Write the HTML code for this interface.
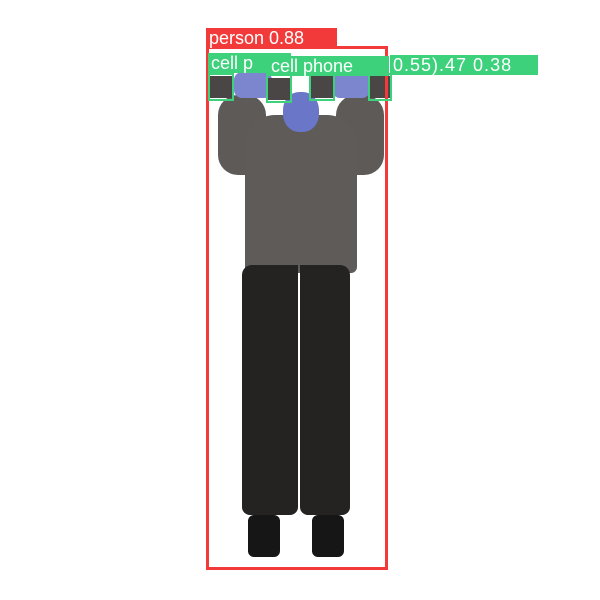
<!DOCTYPE html>
<html><head><style>
body{margin:0;width:600px;height:600px;background:#fff;position:relative;overflow:hidden;font-family:"Liberation Sans",sans-serif}
div{position:absolute}
.lbl{color:#fff;font-size:18px;line-height:20px;padding-left:3px;white-space:nowrap}
.g{background:#3cd17a}.r{background:#f23a3a}
.gb{border:2px solid #3cd17a;box-sizing:border-box}
.db{background:#4a4646}
</style></head><body>
<div style="left:0;top:0;width:600px;height:600px">
<div style="left:218px;top:95px;width:48px;height:80px;background:#5e5a58;border-radius:20px"></div>
<div style="left:336px;top:95px;width:48px;height:80px;background:#5e5a58;border-radius:20px"></div>
<div style="left:245px;top:115px;width:112px;height:158px;background:#5f5b59;border-radius:30px 30px 6px 6px"></div>
<div style="left:283px;top:92px;width:36px;height:40px;background:#6a76c8;border-radius:45%"></div>
<div style="left:234px;top:72px;width:38px;height:26px;background:#7c86cf;border-radius:8px"></div>
<div style="left:332px;top:72px;width:38px;height:26px;background:#7c86cf;border-radius:8px"></div>
<div class="db" style="left:210px;top:76px;width:22px;height:22px"></div>
<div class="db" style="left:268px;top:78px;width:22px;height:22px"></div>
<div class="db" style="left:311px;top:76px;width:22px;height:22px"></div>
<div class="db" style="left:370px;top:76px;width:20px;height:22px"></div>
<div style="left:242px;top:265px;width:56px;height:250px;background:#252222;border-radius:10px 0 8px 8px"></div>
<div style="left:300px;top:265px;width:50px;height:250px;background:#252222;border-radius:0 10px 8px 8px"></div>
<div style="left:248px;top:515px;width:32px;height:42px;background:#161616;border-radius:6px"></div>
<div style="left:312px;top:515px;width:32px;height:42px;background:#161616;border-radius:6px"></div>
</div>
<div style="left:206px;top:46px;width:182px;height:524px;border:3px solid #f23a3a;box-sizing:border-box"></div>
<div class="lbl r" style="left:206px;top:28px;width:128px">person 0.88</div>
<div class="lbl g" style="left:208px;top:53px;width:80px">cell p</div>
<div class="lbl g" style="left:390px;top:55px;width:145px;letter-spacing:1px">0.55).47 0.38</div>
<div class="lbl g" style="left:268px;top:56px;width:118px">cell phone</div>
<div class="gb" style="left:208px;top:73px;width:26px;height:28px"></div>
<div class="gb" style="left:266px;top:73px;width:26px;height:30px"></div>
<div class="gb" style="left:309px;top:73px;width:26px;height:28px"></div>
<div class="gb" style="left:368px;top:73px;width:24px;height:28px"></div>
</body></html>
